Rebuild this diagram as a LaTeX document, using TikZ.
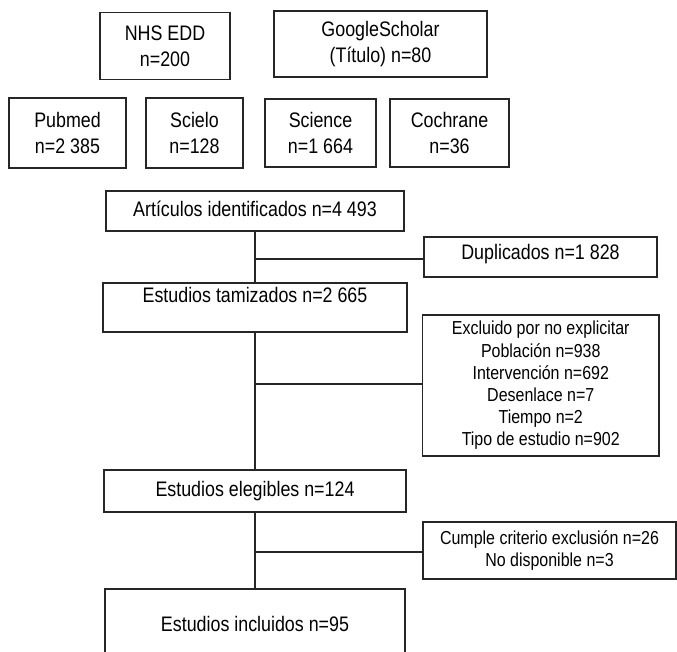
\documentclass[tikz,border=0pt]{standalone}
\usepackage{fontspec}
\setmainfont[FakeStretch=0.85]{Liberation Sans}
\newcommand\bigtxt{\fontsize{21}{26}\selectfont}
\newcommand\smalltxt{\fontsize{18.8}{22.2}\selectfont}
\begin{document}
\begin{tikzpicture}[x=1pt,y=-1pt,
  box/.style={draw=black!85, line width=1.2pt, rectangle, inner sep=0pt,
    align=center, font=\bigtxt, text=black},
  sbox/.style={box, font=\smalltxt},
  conn/.style={draw=black!85, line width=1.2pt}]
\useasboundingbox (0,0) rectangle (677,651);
% sources
\node[box, minimum width=130pt, minimum height=66.6pt] (nhs) at (165,46) {NHS EDD\\n=200};
\node[box, minimum width=213pt, minimum height=66pt] (gs) at (380.5,44) {GoogleScholar\\(Título) n=80};
\node[box, minimum width=117pt, minimum height=70pt] (pub) at (67.5,133) {Pubmed\\n=2 385};
\node[box, minimum width=97pt, minimum height=70pt] (sci) at (194.5,133) {Scielo\\n=128};
\node[box, minimum width=111pt, minimum height=68pt] (scn) at (320.5,133) {Science\\n=1 664};
\node[box, minimum width=119pt, minimum height=68pt] (coc) at (449.5,133) {Cochrane\\n=36};
% main flow
\node[box, minimum width=298pt, minimum height=40pt, text depth=4pt] (art) at (255,211) {Artículos identificados n=4 493};
\node[box, minimum width=233pt, minimum height=40pt, text depth=10pt] (dup) at (540.5,257) {Duplicados n=1 828};
\node[box, minimum width=304pt, minimum height=49pt, text depth=25pt] (tam) at (255,307.5) {Estudios tamizados n=2 665};
\node[sbox, minimum width=236.5pt, minimum height=141pt] (exc) at (540.75,385.5)
  {Excluido por no explicitar\\Población n=938\\Intervención n=692\\Desenlace n=7\\Tiempo n=2\\Tipo de estudio n=902};
\node[box, minimum width=302pt, minimum height=42pt] (ele) at (255,491) {Estudios elegibles n=124};
\node[sbox, minimum width=253pt, minimum height=57pt] (cum) at (549.5,550.5)
  {Cumple criterio exclusión n=26\\No disponible n=3};
\node[box, minimum width=300pt, minimum height=81pt, text depth=11pt] (inc) at (255,629.5) {Estudios incluidos n=95};
% connectors
\draw[conn] (art.south) -- (tam.north);
\draw[conn] (tam.south) -- (ele.north);
\draw[conn] (ele.south) -- (inc.north);
\draw[conn] (dup.west |- 0,259) -- (art.south |- 0,259);
\draw[conn] (exc.west |- 0,384) -- (art.south |- 0,384);
\draw[conn] (cum.west |- 0,552) -- (art.south |- 0,552);
\end{tikzpicture}
\end{document}
